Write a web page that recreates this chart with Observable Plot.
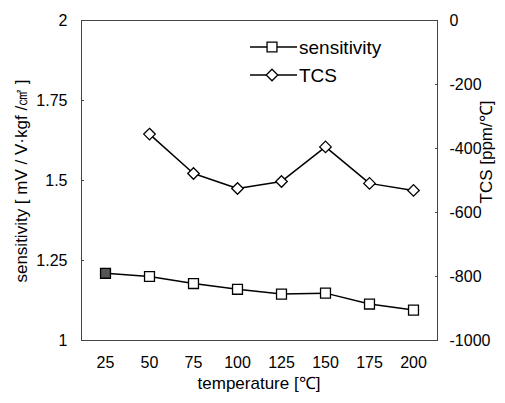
<!DOCTYPE html>
<html>
<head>
<meta charset="utf-8">
<script src="https://cdn.jsdelivr.net/npm/d3@7"></script>
<script src="https://cdn.jsdelivr.net/npm/@observablehq/plot@0.6"></script>
<style>
  html, body { margin: 0; padding: 0; background: white; }
  #chart { width: 505px; height: 403px; }
</style>
</head>
<body>
<div id="chart"></div>
<script>
const temperature = [25, 50, 75, 100, 125, 150, 175, 200];
const sensitivity = [1.21, 1.20, 1.178, 1.16, 1.145, 1.148, 1.114, 1.095];
const tcs = [null, -355, -478, -525, -503, -395, -509, -531];
const sensTicks = [1, 1.25, 1.5, 1.75, 2];
const tcsTicks = [0, -200, -400, -600, -800, -1000];
const seriesNames = ["sensitivity", "TCS"];

// TCS axis (0 .. -1000) mapped onto the sensitivity axis (2 .. 1)
const toY = t => 2 + t / 1000;
const fromY = v => Math.round((v - 2) * 1000);

const sensData = temperature.map((t, i) => ({t, v: sensitivity[i], i}));
const tcsData = temperature.map((t, i) => ({t, v: tcs[i]})).filter(d => d.v != null).map(d => ({t: d.t, v: toY(d.v)}));

const font = "Liberation Sans, Arial, Helvetica, sans-serif";

const svg = Plot.plot({
  width: 505, height: 403,
  marginLeft: 81, marginRight: 68, marginTop: 20, marginBottom: 63,
  style: {fontFamily: font, fontSize: "16px", color: "#000", background: "white"},
  x: {type: "point", domain: temperature, padding: 0.5, label: null},
  y: {domain: [1, 2], label: null},
  marks: [
    Plot.frame({stroke: "#444", strokeWidth: 1}),
    Plot.axisX({tickSize: 0, tickPadding: 16, label: null, fontSize: 16}),
    Plot.axisY({anchor: "left", ticks: sensTicks, tickSize: 0, tickPadding: 14, tickFormat: d => String(d), label: null, fontSize: 16}),
    Plot.axisY({anchor: "left", ticks: sensTicks, tickSize: 3, dx: 3, tickFormat: () => "", label: null, stroke: "#444"}),
    Plot.axisY({anchor: "right", ticks: tcsTicks.map(toY), tickSize: 0, tickPadding: 12, tickFormat: v => String(fromY(v)), label: null, fontSize: 16}),
    Plot.axisY({anchor: "right", ticks: tcsTicks.map(toY), tickSize: 3, dx: -3, tickFormat: () => "", label: null, stroke: "#444"}),
    Plot.line(sensData, {x: "t", y: "v", stroke: "black", strokeWidth: 1.5}),
    Plot.dot(sensData, {x: "t", y: "v", symbol: "square", r: 5.6, stroke: "black", strokeWidth: 1.3, fill: d => d.i === 0 ? "#555" : "white"}),
    Plot.line(tcsData, {x: "t", y: "v", stroke: "black", strokeWidth: 1.5}),
    Plot.dot(tcsData, {x: "t", y: "v", symbol: "diamond2", r: 5.2, stroke: "black", strokeWidth: 1.3, fill: "white"})
  ]
});

const s = d3.select(svg);
// axis titles
s.append("text")
  .attr("transform", "translate(27,181) rotate(-90)")
  .attr("text-anchor", "middle").attr("font-family", font).attr("font-size", 17)
  .text("sensitivity [ mV / V·kgf /㎠ ]");
s.append("text")
  .attr("transform", "translate(492,152) rotate(-90)")
  .attr("text-anchor", "middle").attr("font-family", font).attr("font-size", 17)
  .text("TCS [ppm/℃]");
s.append("text")
  .attr("x", 259).attr("y", 389)
  .attr("text-anchor", "middle").attr("font-family", font).attr("font-size", 17)
  .text("temperature [℃]");

// legend
const legendRows = [
  {name: seriesNames[0], sym: d3.symbolSquare, size: 98, y: 47},
  {name: seriesNames[1], sym: d3.symbolDiamond2, size: 86, y: 75}
];
const lg = s.append("g");
legendRows.forEach(r => {
  lg.append("line").attr("x1", 250).attr("x2", 297).attr("y1", r.y).attr("y2", r.y)
    .attr("stroke", "black").attr("stroke-width", 1.5);
  lg.append("path").attr("d", d3.symbol(r.sym, r.size)())
    .attr("transform", `translate(272,${r.y})`)
    .attr("fill", "white").attr("stroke", "black").attr("stroke-width", 1.3);
  lg.append("text").attr("x", 299).attr("y", r.y).attr("dy", "0.35em")
    .attr("text-anchor", "start")
    .attr("font-family", font).attr("font-size", 19).text(r.name);
});

document.getElementById("chart").appendChild(svg);
</script>
</body>
</html>
